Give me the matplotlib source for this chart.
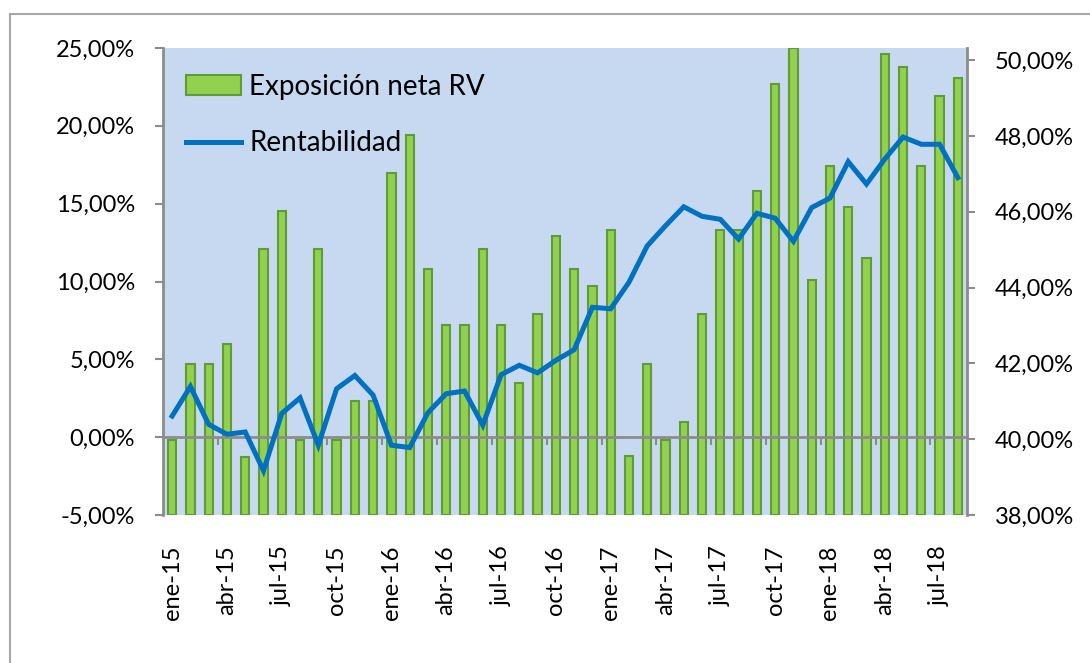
import matplotlib.pyplot as plt
from matplotlib.lines import Line2D
from matplotlib.patches import Patch
import numpy as np

# meses ene-15 .. ago-18
months = ["ene", "feb", "mar", "abr", "may", "jun", "jul", "ago", "sep", "oct", "nov", "dic"]
labels = [f"{m}-{y}" for y in range(15, 19) for m in months][:44]

# exposicion neta RV (% eje izq)
exposicion = [-0.2, 4.7, 4.7, 6.0, -1.3, 12.1, 14.5, -0.2, 12.1, -0.2, 2.3, 2.3,
              17.0, 19.4, 10.8, 7.2, 7.2, 12.1, 7.2, 3.5, 7.9, 12.9, 10.8, 9.7,
              13.3, -1.2, 4.7, -0.2, 1.0, 7.9, 13.3, 13.3, 15.8, 22.7, 25.0, 10.1,
              17.4, 14.8, 11.5, 24.6, 23.8, 17.4, 21.9, 23.1]

# rentabilidad (% eje dcho)
rentabilidad = [40.61, 41.39, 40.39, 40.13, 40.19, 39.17, 40.68, 41.09, 39.84, 41.33, 41.68, 41.16,
                39.84, 39.78, 40.70, 41.20, 41.27, 40.37, 41.70, 41.95, 41.75, 42.08, 42.36, 43.48,
                43.44, 44.14, 45.10, 45.63, 46.13, 45.88, 45.80, 45.28, 45.96, 45.83, 45.22, 46.11,
                46.36, 47.32, 46.73, 47.39, 47.97, 47.78, 47.78, 46.90]

left_ticks = [-5, 0, 5, 10, 15, 20, 25]
right_ticks = [38, 40, 42, 44, 46, 48, 50]

font = "Lato"
fs = 17
gray = "#8C8C8C"

fig = plt.figure(figsize=(10.9, 6.63), dpi=100)
# marco exterior
fig.add_artist(Line2D([10/1090, 1], [1-14/663, 1-14/663], color="#A6A6A6", lw=1.5))
fig.add_artist(Line2D([10/1090, 10/1090], [0, 1-14/663], color="#A6A6A6", lw=1.5))

ax = fig.add_axes([163/1090, 1-515/663, (967-163)/1090, (515-48)/663])
ax.set_facecolor("#C6D9F1")
x = np.arange(len(exposicion))
ybase = left_ticks[0]
ax.bar(x, np.array(exposicion) - ybase, bottom=ybase, width=0.45,
       color="#92D050", edgecolor="#5F9B37", linewidth=1.5, zorder=2)
ax.set_xlim(-0.5, len(exposicion) - 0.5)
ax.set_ylim(-5, 25)
ax.set_yticks(left_ticks)
ax.set_yticklabels([f"{v:,.2f}%".replace(".", ",") for v in left_ticks],
                   fontsize=fs, fontfamily=font)
ax.tick_params(axis="y", length=6, width=1.5, color=gray, pad=14)

# eje horizontal en 0
for s in ["top", "right"]:
    ax.spines[s].set_visible(False)
ax.spines["left"].set_color(gray)
ax.spines["left"].set_linewidth(2)
ax.spines["bottom"].set_position(("data", 0))
ax.spines["bottom"].set_color(gray)
ax.spines["bottom"].set_linewidth(2)
ax.spines["bottom"].set_zorder(3)
ax.set_xticks(np.arange(2.5, len(exposicion) - 1, 3), minor=True)
ax.set_xticks([])
ax.tick_params(axis="x", which="minor", length=6, width=1.5, color=gray, direction="out")

sec = ax.secondary_xaxis("bottom")
sec.set_xticks(x[::3])
sec.set_xticklabels(labels[::3], rotation=90, fontsize=fs, fontfamily=font)
sec.tick_params(length=0, pad=22)
sec.spines["bottom"].set_visible(False)

ax2 = ax.twinx()
ax2.plot(x, rentabilidad, color="#0070C0", lw=3.6, solid_joinstyle="miter", zorder=4)
ax2.set_ylim(38, 50.32)
ax2.set_yticks(right_ticks)
ax2.set_yticklabels([f"{v:,.2f}%".replace(".", ",") for v in right_ticks],
                    fontsize=fs, fontfamily=font)
ax2.tick_params(axis="y", length=6, width=1.5, color=gray, pad=14)
for s in ["top", "left", "bottom"]:
    ax2.spines[s].set_visible(False)
ax2.spines["right"].set_color(gray)
ax2.spines["right"].set_linewidth(2)

handles = [Patch(facecolor="#92D050", edgecolor="#5F9B37", linewidth=1.5),
           Line2D([], [], color="#0070C0", lw=3.6)]
ax2.legend(handles, ["Exposición neta RV", "Rentabilidad"], loc="upper left",
           bbox_to_anchor=(-0.003, 0.998), frameon=False,
           prop={"family": font, "size": 20}, handlelength=2.0, handleheight=0.7,
           handletextpad=0.3, labelspacing=1.1)

fig.savefig("out.png", dpi=100)
